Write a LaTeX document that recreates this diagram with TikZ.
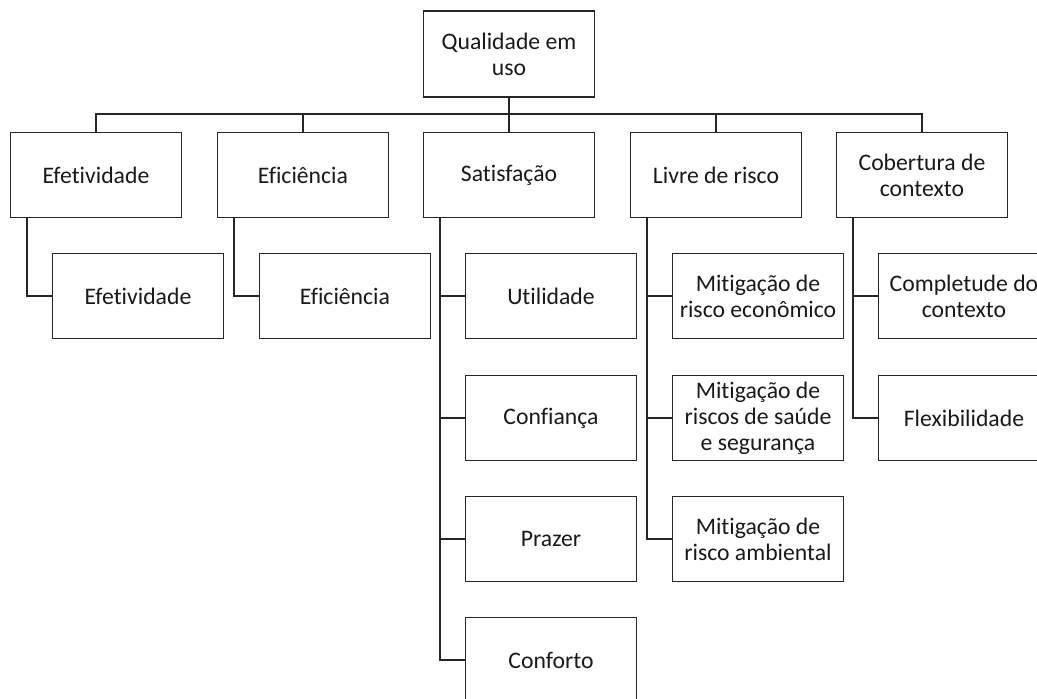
\documentclass[tikz,border=0pt]{standalone}
\usepackage{fontspec}
\setmainfont{Carlito}[RawFeature={-liga;-clig;-calt;-dlig}]
\begin{document}
\begin{tikzpicture}[x=1pt,y=-1pt,
  box/.style={draw=black!85, line width=1.8pt, minimum width=171pt, minimum height=85pt,
    inner sep=0pt, align=center, font=\fontsize{23.7}{26}\selectfont, text=black!90},
  wire/.style={draw=black!85, line width=1.8pt}]
\useasboundingbox (0,0) rectangle (1037,699);
\clip (0,0) rectangle (1037,699);
% root
\node[box, minimum height=86pt] (root) at (509,54) {Qualidade em\\uso};
% level 1
\node[box] (a) at (96,175) {Efetividade};
\node[box] (b) at (303,175) {Eficiência};
\node[box] (c) at (509,175) {Satisfação};
\node[box] (d) at (716,175) {Livre de risco};
\node[box] (e) at (922,175) {Cobertura de\\contexto};
% level 2
\node[box] (a1) at (138,296) {Efetividade};
\node[box] (b1) at (345,296) {Eficiência};
\node[box] (c1) at (551,296) {Utilidade};
\node[box] (c2) at (551,418) {Confiança};
\node[box] (c3) at (551,539) {Prazer};
\node[box] (c4) at (551,660) {Conforto};
\node[box] (d1) at (758,296) {Mitigação de\\risco econômico};
\node[box] (d2) at (758,418) {Mitigação de\\riscos de saúde\\e segurança};
\node[box] (d3) at (758,539) {Mitigação de\\risco ambiental};
\node[box] (e1) at (964,296) {Completude do\\contexto};
\node[box] (e2) at (964,418) {Flexibilidade};
% bus
\foreach \n in {a,b,c,d,e}{
  \draw[wire] (\n.north) -- ++(0,-18) -| (root.south);
}
% child connectors
\draw[wire] (a.south west) ++(17,0) |- (a1.west);
\draw[wire] (b.south west) ++(17,0) |- (b1.west);
\foreach \k in {c1,c2,c3,c4}{\draw[wire] (c.south west) ++(17,0) |- (\k.west);}
\foreach \k in {d1,d2,d3}{\draw[wire] (d.south west) ++(17,0) |- (\k.west);}
\foreach \k in {e1,e2}{\draw[wire] (e.south west) ++(17,0) |- (\k.west);}
\end{tikzpicture}
\end{document}
